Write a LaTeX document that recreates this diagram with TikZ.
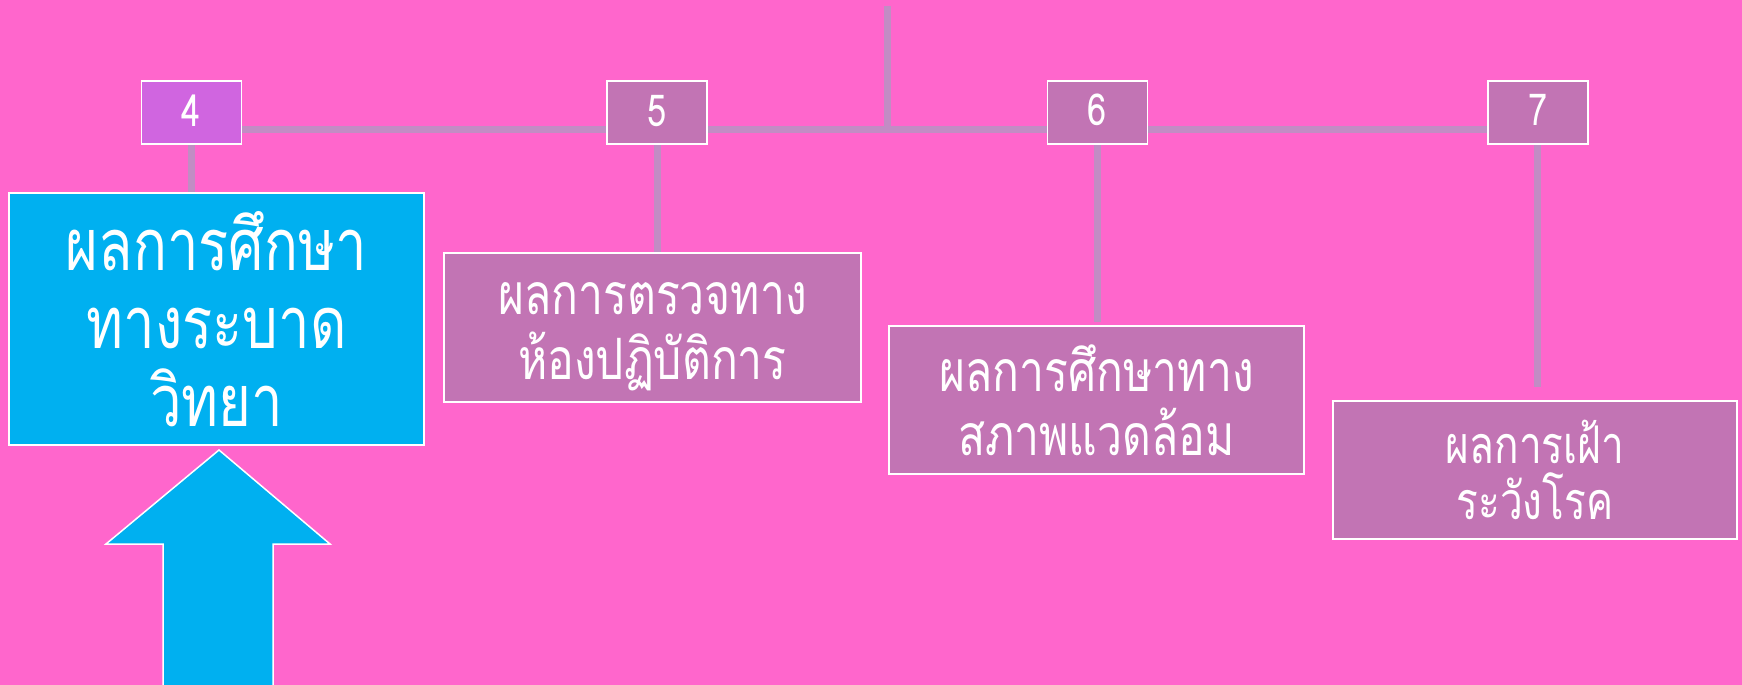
\documentclass[tikz,border=0pt]{standalone}
\usepackage{fontspec}
\newfontfamily\thaifont[Script=Thai,FakeStretch=0.78]{Loma}
\definecolor{bgpink}{HTML}{FF66CC}
\definecolor{boxmauve}{HTML}{C274B4}
\definecolor{boxorchid}{HTML}{D065E0}
\definecolor{linemauve}{HTML}{C28CC4}
\definecolor{skyblue}{HTML}{00B0F0}
\tikzset{
  numbox/.style={draw=white, line width=1.5pt, fill=boxmauve, minimum width=100pt, minimum height=63pt, inner sep=0pt, text=white, font=\thaifont\fontsize{44}{50}\selectfont},
  resbox/.style={draw=white, line width=1.5pt, fill=boxmauve, inner sep=0pt, text=white, align=center},
  restext/.style={text=white, align=center, inner sep=0pt},
  conn/.style={draw=linemauve, line width=7pt},
}
\begin{document}
\begin{tikzpicture}[x=1pt,y=-1pt]
\fill[bgpink] (0,0) rectangle (1742,685);
\useasboundingbox (0,0) rectangle (1742,685);
% connectors (drawn first, boxes on top)
\coordinate (top) at (887,6);
\coordinate (junc) at (887,129);
\draw[conn] (top) -- (junc);
\draw[conn] (191,129) -- (1538,129);
\draw[conn] (191,144) -- (191,194);
\draw[conn] (657,144) -- (657,254);
\draw[conn] (1097,144) -- (1097,322);
\draw[conn] (1537,144) -- (1537,387);
% number boxes
\node[numbox, fill=boxorchid] (b4) at (191.5,112.5) {\raisebox{3pt}{4}};
\node[numbox] (b5) at (657,112.5) {\raisebox{3pt}{5}};
\node[numbox] (b6) at (1097.5,112.5) {\raisebox{6pt}{6}};
\node[numbox] (b7) at (1538,112.5) {\raisebox{6pt}{7}};
% result boxes
\node[resbox, fill=skyblue, minimum width=415pt, minimum height=252pt,
      font=\thaifont\fontsize{72}{78}\selectfont] (r4) at (216.5,319) {ผลการศึกษา\\ทางระบาด\\วิทยา};
\node[resbox, minimum width=417pt, minimum height=149pt] (r5) at (652.5,327.5) {};
\node[restext, font=\thaifont\fontsize{57}{65}\selectfont] (t5) at (652.5,337) {ผลการตรวจทาง\\ห้องปฏิบัติการ};
\node[resbox, minimum width=415pt, minimum height=148pt,
      font=\thaifont\fontsize{57}{64}\selectfont] (r6) at (1096.5,400) {ผลการศึกษาทาง\\สภาพแวดล้อม};
\node[resbox, minimum width=404pt, minimum height=138pt,
      font=\thaifont\fontsize{52}{56}\selectfont] (r7) at (1535,470) {ผลการเฝ้า\\ระวังโรค};
% block arrow
\draw[draw=white, line width=1.5pt, fill=skyblue]
  (219,450) -- (330,544) -- (273,544) -- (273,690) -- (163,690) -- (163,544) -- (106,544) -- cycle;
\end{tikzpicture}
\end{document}
